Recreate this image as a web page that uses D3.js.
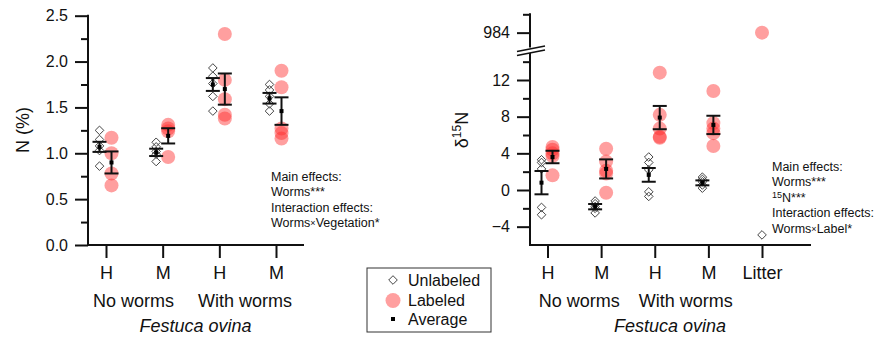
<!DOCTYPE html>
<html>
<head>
<meta charset="utf-8">
<script src="https://cdn.jsdelivr.net/npm/d3@7"></script>
<style>
  html, body { margin: 0; padding: 0; background: #fff; }
</style>
</head>
<body>
<div id="chart"></div>
<script>
// categories
const leftCats = ["H", "M", "H", "M"];
const rightCats = ["H", "M", "H", "M", "Litter"];
const wormGroups = ["No worms", "With worms"];

// N (%) – individual values per category
const nUnlabeled = [
  [1.25, 1.15, 1.08, 1.03, 0.86],
  [1.12, 1.07, 1.02, 0.99, 0.91],
  [1.93, 1.84, 1.76, 1.62, 1.46],
  [1.75, 1.69, 1.62, 1.54, 1.46]
];
const nLabeled = [
  [1.17, 1.00, 0.78, 0.65],
  [1.31, 1.27, 1.24, 0.96],
  [2.30, 1.80, 1.59, 1.42, 1.38],
  [1.90, 1.72, 1.27, 1.22, 1.16]
];
const nUnlabeledMean = [1.07, 1.01, 1.75, 1.60];
const nUnlabeledSE = [0.055, 0.04, 0.07, 0.058];
const nLabeledMean = [0.90, 1.19, 1.70, 1.46];
const nLabeledSE = [0.12, 0.083, 0.17, 0.15];

// delta 15N – individual values per category
const dUnlabeled = [
  [3.3, 3.0, 2.3, -1.9, -2.7],
  [-1.2, -1.5, -1.8, -2.0, -2.5],
  [3.6, 3.0, 2.2, -0.2, -0.7],
  [1.4, 1.15, 0.9, 0.55, 0.2]
];
const dLabeled = [
  [4.7, 4.4, 4.0, 3.7, 1.6],
  [4.5, 3.1, 2.1, 1.8, -0.3],
  [12.8, 8.2, 6.7, 5.8, 5.7],
  [10.8, 7.3, 6.7, 6.2, 4.8]
];
const dUnlabeledMean = [0.8, -1.82, 1.65, 0.78];
const dUnlabeledSE = [1.27, 0.29, 0.75, 0.27];
const dLabeledMean = [3.6, 2.3, 7.9, 7.1];
const dLabeledSE = [0.68, 1.04, 1.27, 1.0];
const litterUnlabeled = [-4.9];
const litterLabeled = [984];

// tick values
const nTicks = [0, 0.5, 1, 1.5, 2, 2.5];
const nMinorTicks = [0.25, 0.75, 1.25, 1.75, 2.25];
const dTicks = [-4, 0, 4, 8, 12];
const dMinorTicks = [-2, 2, 6, 10, 14];
const dTopTicks = [984];
const dTopMinorTicks = [986];

const FONT = "'Liberation Sans', Arial, Helvetica, sans-serif";
const RED = "#ff2a2a";
const offU = -6.5, offL = 5.5; // shift of unlabeled / labeled inside a category

const svg = d3.select("#chart").append("svg")
  .attr("width", 880).attr("height", 339)
  .style("font-family", FONT);

// scales
const xL = d3.scalePoint().domain(d3.range(leftCats.length)).range([106, 276]);
const yL = d3.scaleLinear().domain([0, 2.5]).range([245, 15.7]);
const xR = d3.scalePoint().domain(d3.range(rightCats.length)).range([547.5, 762]);
const yR = d3.scaleLinear().domain([-6, 15]).range([245, 52.5]);
const yRTop = d3.scaleLinear().domain([982.5, 986]).range([46.4, 14.3]);

function styleAxis(g, size) {
  g.select(".domain").remove();
  g.selectAll(".tick line").attr("stroke", "#111").attr("stroke-width", 2);
  g.selectAll(".tick text").attr("fill", "#111").style("font-size", size + "px").style("font-family", FONT);
}

function yAxis(x, scale, major, minor, fmt) {
  svg.append("g").attr("transform", `translate(${x},0)`)
    .call(d3.axisLeft(scale).tickValues(major).tickFormat(fmt).tickSize(13).tickPadding(7))
    .call(g => styleAxis(g, 16));
  svg.append("g").attr("transform", `translate(${x},0)`)
    .call(d3.axisLeft(scale).tickValues(minor).tickFormat("").tickSize(7))
    .call(g => styleAxis(g, 16));
}

function xAxis(y, scale, cats) {
  svg.append("g").attr("transform", `translate(0,${y})`)
    .call(d3.axisBottom(scale).tickFormat(i => cats[i]).tickSize(13).tickPadding(8))
    .call(g => styleAxis(g, 18));
}

function axisLine(x1, y1, x2, y2) {
  svg.append("line").attr("x1", x1).attr("y1", y1).attr("x2", x2).attr("y2", y2)
    .attr("stroke", "#111").attr("stroke-width", 2).attr("stroke-linecap", "square");
}

// ---- left panel axes
yAxis(88, yL, nTicks, nMinorTicks, d3.format(".1f"));
xAxis(245, xL, leftCats);
axisLine(88, yL(2.5), 88, 245);
axisLine(88, 245, 303, 245);

// ---- right panel axes (broken)
yAxis(530, yR, dTicks, dMinorTicks, d3.format("d"));
yAxis(530, yRTop, dTopTicks, dTopMinorTicks, d3.format("d"));
xAxis(245, xR, rightCats);
axisLine(530, yRTop(986), 530, yRTop.range()[0]);
axisLine(530, yR(15), 530, 245);
axisLine(530, 245, 810, 245);
// break marks
svg.append("path")
  .attr("d", "M517,51.5L545,46L545,50L517,55.5Z")
  .attr("fill", "#fff");
[[51.5, 46], [55.5, 50]].forEach(([a, b]) => {
  svg.append("line").attr("x1", 517).attr("y1", a).attr("x2", 545).attr("y2", b)
    .attr("stroke", "#111").attr("stroke-width", 1.6);
});

// ---- points
const diamond = "M0,-4.3L4.3,0L0,4.3L-4.3,0Z";

function flat(arr) {
  return arr.flatMap((vals, i) => vals.map(v => ({ i, v })));
}

function drawPoints(x, y, unl, lab, uOff, lOff) {
  svg.append("g").selectAll("circle").data(flat(lab)).join("circle")
    .attr("cx", d => x(d.i) + lOff).attr("cy", d => y(d.v)).attr("r", 7)
    .attr("fill", RED).attr("fill-opacity", 0.45);
  svg.append("g").selectAll("path").data(flat(unl)).join("path")
    .attr("d", diamond)
    .attr("transform", d => `translate(${x(d.i) + uOff},${y(d.v)})`)
    .attr("fill", "none").attr("stroke", "#444").attr("stroke-width", 1);
}

function drawMeans(x, y, means, ses, off) {
  const g = svg.append("g").attr("stroke", "#111").attr("stroke-width", 2);
  means.forEach((m, i) => {
    const cx = x(i) + off;
    const top = y(m + ses[i]), bot = y(m - ses[i]);
    g.append("line").attr("x1", cx).attr("x2", cx).attr("y1", top).attr("y2", bot);
    g.append("line").attr("x1", cx - 7).attr("x2", cx + 7).attr("y1", top).attr("y2", top);
    g.append("line").attr("x1", cx - 7).attr("x2", cx + 7).attr("y1", bot).attr("y2", bot);
    svg.append("rect").attr("x", cx - 2).attr("y", y(m) - 2).attr("width", 4).attr("height", 4).attr("fill", "#000");
  });
}

drawPoints(xL, yL, nUnlabeled, nLabeled, offU, offL);
drawMeans(xL, yL, nUnlabeledMean, nUnlabeledSE, offU);
drawMeans(xL, yL, nLabeledMean, nLabeledSE, offL);

drawPoints(xR, yR, dUnlabeled, dLabeled, offU + 0.5, offL - 0.5);
drawMeans(xR, yR, dUnlabeledMean, dUnlabeledSE, offU + 0.5);
drawMeans(xR, yR, dLabeledMean, dLabeledSE, offL - 0.5);

// litter (index 4)
svg.append("g").selectAll("circle").data(litterLabeled).join("circle")
  .attr("cx", xR(4)).attr("cy", d => yRTop(d)).attr("r", 7)
  .attr("fill", RED).attr("fill-opacity", 0.45);
svg.append("g").selectAll("path").data(litterUnlabeled).join("path")
  .attr("d", diamond)
  .attr("transform", d => `translate(${xR(4)},${yR(d)})`)
  .attr("fill", "none").attr("stroke", "#444").attr("stroke-width", 1);

// ---- group labels under x axes
function groupLabels(centers, italicX) {
  wormGroups.forEach((t, k) => {
    svg.append("text").attr("x", centers[k]).attr("y", 306.7)
      .attr("text-anchor", "middle").style("font-size", "18px").attr("fill", "#111").text(t);
  });
  svg.append("text").attr("x", italicX).attr("y", 331.5)
    .attr("text-anchor", "middle").style("font-size", "18px").style("font-style", "italic")
    .attr("fill", "#111").text("Festuca ovina");
}
groupLabels([133.5, 245], 195.5);
groupLabels([579.3, 685.7], 670);

// ---- axis titles
svg.append("text").attr("transform", "translate(29,130) rotate(-90)")
  .attr("text-anchor", "middle").style("font-size", "18px").attr("fill", "#111").text("N (%)");

const dTitle = svg.append("text").attr("transform", "translate(468,130) rotate(-90)")
  .attr("text-anchor", "middle").style("font-size", "18px").attr("fill", "#111");
dTitle.append("tspan").text("δ");
dTitle.append("tspan").attr("dy", -7).style("font-size", "12px").text("15");
dTitle.append("tspan").attr("dy", 7).text("N");

// ---- statistics notes
function note(x, y0, lines) {
  const t = svg.append("text").style("font-size", "12.5px").attr("fill", "#111");
  lines.forEach((parts, k) => {
    const base = y0 + k * 15.4;
    parts.forEach((p, j) => {
      const s = t.append("tspan").text(p.t);
      if (j === 0) s.attr("x", x);
      if (p.sup) s.attr("y", base - 4).style("font-size", "9px");
      else if (p.small) s.attr("y", base - 1).style("font-size", "9px");
      else s.attr("y", base);
    });
  });
}
note(271, 181, [
  [{ t: "Main effects:" }],
  [{ t: "Worms***" }],
  [{ t: "Interaction effects:" }],
  [{ t: "Worms" }, { t: "×", small: true }, { t: "Vegetation*" }]
]);
note(772, 171, [
  [{ t: "Main effects:" }],
  [{ t: "Worms***" }],
  [{ t: "15", sup: true }, { t: "N***" }],
  [{ t: "Interaction effects:" }],
  [{ t: "Worms" }, { t: "×", small: true }, { t: "Label*" }]
]);

// ---- legend
const lg = svg.append("g");
lg.append("rect").attr("x", 367).attr("y", 268).attr("width", 124).attr("height", 64)
  .attr("fill", "#fff").attr("stroke", "#333").attr("stroke-width", 1);
lg.append("path").attr("d", diamond).attr("transform", "translate(393,280)")
  .attr("fill", "none").attr("stroke", "#444");
lg.append("circle").attr("cx", 393).attr("cy", 300.5).attr("r", 7.5)
  .attr("fill", RED).attr("fill-opacity", 0.45);
lg.append("rect").attr("x", 391).attr("y", 317).attr("width", 4).attr("height", 4).attr("fill", "#000");
[["Unlabeled", 280], ["Labeled", 300.5], ["Average", 319]].forEach(([t, y]) => {
  lg.append("text").attr("x", 408).attr("y", y + 5.8).style("font-size", "16px")
    .attr("fill", "#111").text(t);
});
</script>
</body>
</html>
